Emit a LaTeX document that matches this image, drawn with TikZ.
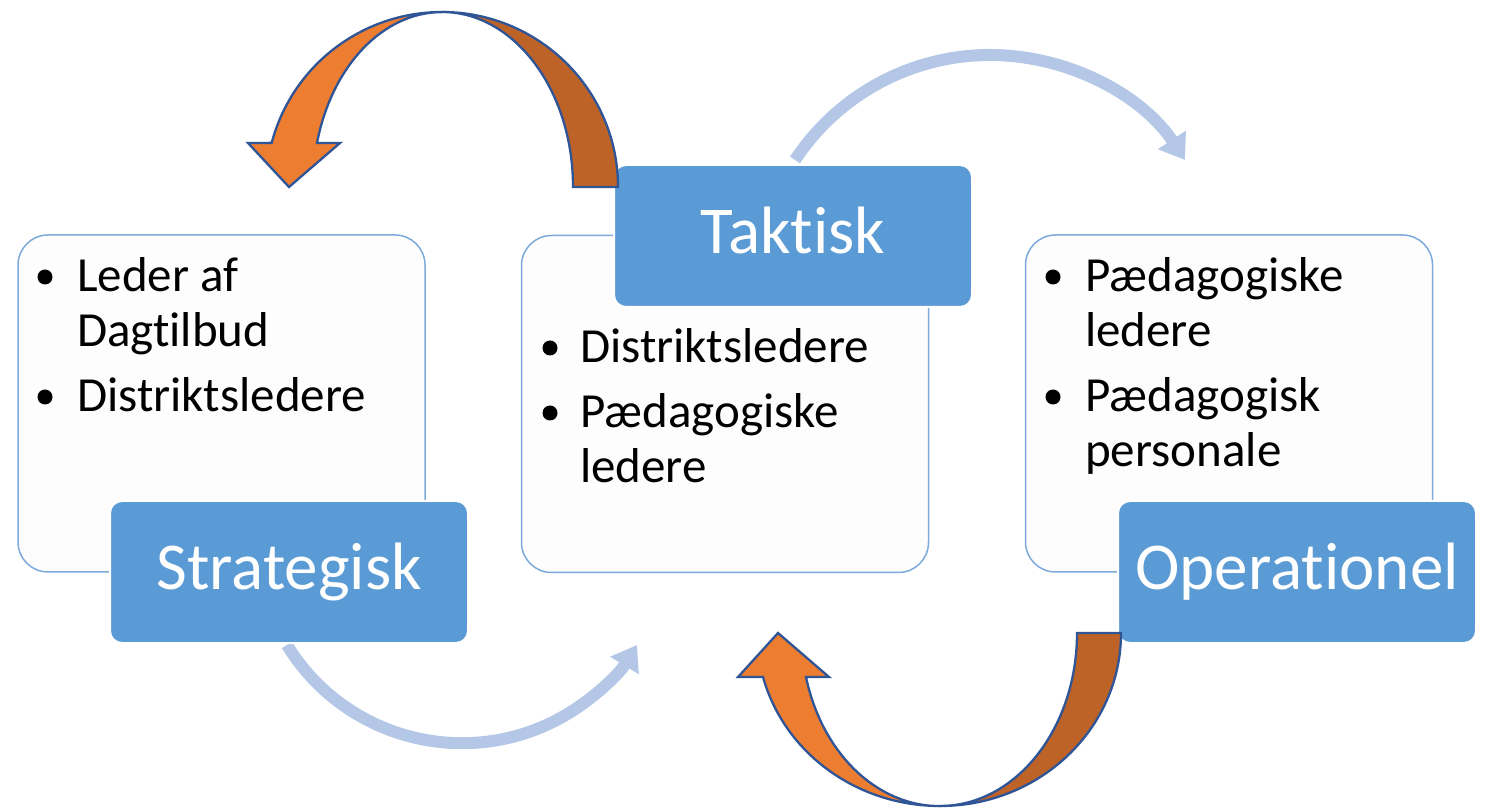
\documentclass[tikz,border=0pt]{standalone}
\usepackage{fontspec}
\setmainfont{Carlito}[RawFeature={-liga;-clig;-calt;-dlig;-hlig}]
\usetikzlibrary{arrows.meta}
\newcommand\brk{\kern0pt{}}
\definecolor{boxblue}{HTML}{5B9BD5}
\definecolor{boxedge}{RGB}{125,170,220}
\definecolor{arclight}{HTML}{B4C7E7}
\definecolor{orlight}{HTML}{ED7D31}
\definecolor{ordark}{HTML}{BE6327}
\definecolor{orline}{HTML}{2F5597}
\definecolor{paper}{HTML}{FDFDFD}
\begin{document}
\begin{tikzpicture}[x=1pt,y=1pt,
  panel/.style={draw=boxedge,line width=1.5pt,fill=paper,rounded corners=30pt,inner sep=0pt,minimum width=407pt,minimum height=337pt},
  titlebox/.style={draw=white,line width=2pt,fill=boxblue,rounded corners=12pt,minimum width=358pt,minimum height=142pt,inner sep=0pt,text=white,font=\fontsize{67}{80}\selectfont,text height=36pt,text depth=0pt},
  itemtext/.style={anchor=base west,inner sep=0pt,font=\fontsize{49}{55}\selectfont},
  dot/.style={circle,fill=black,minimum size=15pt,inner sep=0pt},
  lightarc/.style={draw=arclight,line width=12pt,-{Triangle[width=32pt,length=24pt]}},
  orfront/.style={fill=orlight,draw=orline,line width=2.3pt},
  orback/.style={fill=ordark,draw=orline,line width=2.3pt}]
\useasboundingbox (0,0) rectangle (1488,809);

% light blue arcs
\draw[lightarc] (795,649) arc[start angle=146.6,end angle=33.4,radius=233.6];
\draw[lightarc] (287,164) arc[start angle=211.4,end angle=328.6,radius=205];

% panels
\node[panel] (pl) at (221.5,405.5) {};
\node[panel] (pm) at (725,405) {};
\node[panel] (pr) at (1229,405.5) {};

% title boxes
\node[titlebox] (strat) at (289,237) {Strategisk};
\node[titlebox] (takt) at (793,573) {Takt\brk isk};
\node[titlebox] (oper) at (1297,237) {Operat\brk ionel};

% orange curved arrows (top)
\filldraw[orback] (618,622) arc[start angle=0,end angle=90,x radius=176,y radius=175]
  arc[start angle=90,end angle=0,x radius=131,y radius=175] -- cycle;
\filldraw[orfront] (442,797) arc[start angle=90,end angle=165.4,x radius=176,y radius=175]
  -- (248,666) -- (289,622) -- (340,666) -- (317,666)
  arc[start angle=165.4,end angle=90,x radius=129,y radius=175] -- cycle;

% orange curved arrows (bottom)
\filldraw[orback] (1121,176) arc[start angle=0,end angle=-90,x radius=181,y radius=173]
  arc[start angle=-90,end angle=0,x radius=137,y radius=173] -- cycle;
\filldraw[orfront] (940,3) arc[start angle=-90,end angle=-165.3,x radius=183,y radius=173]
  -- (738,132) -- (778,176) -- (829,132) -- (806,132)
  arc[start angle=-165.3,end angle=-90,x radius=138,y radius=173] -- cycle;

% left panel text
\node[dot] (lb1) at (45,532) {};
\node[itemtext] (lt1) at (77,517) {Leder af};
\node[itemtext] (lt2) at (77,462) {Dagt\brk ilbud};
\node[dot] (lb2) at (45,412) {};
\node[itemtext] (lt3) at (77,397) {Distriktsledere};

% middle panel text
\node[dot] (mb1) at (550,461) {};
\node[itemtext] (mt1) at (580,446) {Distriktsledere};
\node[dot] (mb2) at (550,396) {};
\node[itemtext] (mt2) at (580,381) {Pædagogiske};
\node[itemtext] (mt3) at (580,326) {ledere};

% right panel text
\node[dot] (rb1) at (1053,532) {};
\node[itemtext] (rt1) at (1085,517) {Pædagogiske};
\node[itemtext] (rt2) at (1085,462) {ledere};
\node[dot] (rb2) at (1053,412) {};
\node[itemtext] (rt3) at (1085,397) {Pædagogisk};
\node[itemtext] (rt4) at (1085,342) {personale};
\end{tikzpicture}
\end{document}
